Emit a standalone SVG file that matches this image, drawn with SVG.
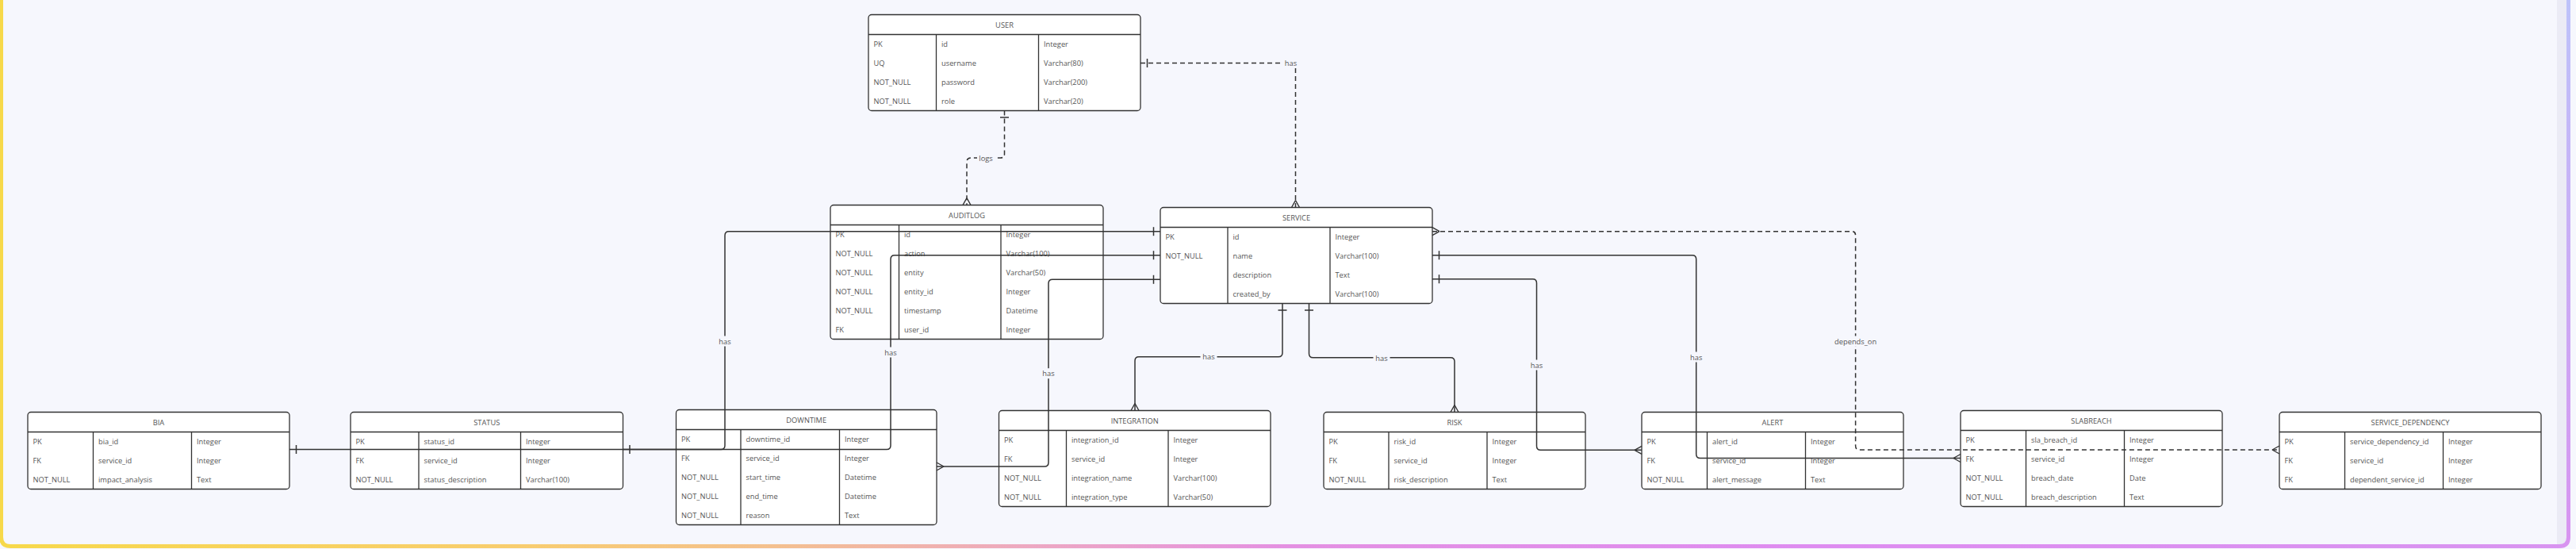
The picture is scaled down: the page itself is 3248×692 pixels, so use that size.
<svg xmlns="http://www.w3.org/2000/svg" width="3248" height="692" viewBox="0 0 3248 692">
<style>
.tb rect{fill:#fff;stroke:#333;stroke-width:1.3}
.ln{fill:none;stroke:#333;stroke-width:1.3}
.t{font-family:"Open Sans","Liberation Sans",sans-serif;font-size:9.3px;fill:#555;dominant-baseline:central}
.hd{text-anchor:middle}
.edge{fill:none;stroke:#333;stroke-width:1.5}
.dash{stroke-dasharray:6 4}
.lbg{fill:#f6f7fd}
.lb{text-anchor:middle}
</style>
<defs>
<linearGradient id="gb" gradientUnits="userSpaceOnUse" x1="0" y1="0" x2="3248" y2="0">
<stop offset="0" stop-color="#f7d94a"/>
<stop offset="0.2" stop-color="#f8cd6e"/>
<stop offset="0.3" stop-color="#f4c08e"/>
<stop offset="0.4" stop-color="#eda8c2"/>
<stop offset="0.5" stop-color="#e490e2"/>
<stop offset="0.7" stop-color="#de8cf0"/>
<stop offset="1" stop-color="#d894f0"/>
</linearGradient>
<linearGradient id="gr" gradientUnits="userSpaceOnUse" x1="0" y1="0" x2="0" y2="692">
<stop offset="0" stop-color="#bec3fa"/>
<stop offset="1" stop-color="#d894f0"/>
</linearGradient>
<marker id="one" markerUnits="userSpaceOnUse" markerWidth="20" markerHeight="20" viewBox="-15 -10 20 20" refX="0" refY="0" orient="auto-start-reverse" overflow="visible">
<path d="M-8.5,-5.5V5.5" stroke="#333" stroke-width="1.5" fill="none"/>
</marker>
<marker id="many" markerUnits="userSpaceOnUse" markerWidth="20" markerHeight="20" viewBox="-15 -10 20 20" refX="0" refY="0" orient="auto-start-reverse" overflow="visible">
<path d="M-9,0L0,-5M-9,0L0,5" stroke="#333" stroke-width="1.4" fill="none"/>
</marker>
</defs>

<rect x="0" y="0" width="3248" height="692" fill="#f6f7fd"/>
<rect x="3224" y="0" width="13" height="686" fill="#ebebf5"/>
<path d="M1.5,-10V677Q1.5,688.5 13,688.5H3227Q3238.5,688.5 3238.5,677V-10" fill="none" stroke="url(#gb)" stroke-width="5"/>
<path d="M3238.5,-10V677" fill="none" stroke="url(#gr)" stroke-width="5"/>

<g id="user" class="tb">
<rect x="1095" y="18.5" width="343" height="121" rx="4"/>
<path class="ln" d="M1095 43.5H1438M1180.5 43.5V139.5M1309.5 43.5V139.5"/>
<text class="t hd" x="1266.5" y="31">USER</text>
<text class="t" x="1101.5" y="55.5">PK</text><text class="t" x="1187" y="55.5">id</text><text class="t" x="1316" y="55.5">Integer</text>
<text class="t" x="1101.5" y="79.5">UQ</text><text class="t" x="1187" y="79.5">username</text><text class="t" x="1316" y="79.5">Varchar(80)</text>
<text class="t" x="1101.5" y="103.5">NOT_NULL</text><text class="t" x="1187" y="103.5">password</text><text class="t" x="1316" y="103.5">Varchar(200)</text>
<text class="t" x="1101.5" y="127.5">NOT_NULL</text><text class="t" x="1187" y="127.5">role</text><text class="t" x="1316" y="127.5">Varchar(20)</text>
</g>

<g id="auditlog" class="tb">
<rect x="1047" y="258.5" width="344" height="169" rx="4"/>
<path class="ln" d="M1047 283.5H1391M1133.5 283.5V427.5M1262 283.5V427.5"/>
<text class="t hd" x="1219" y="271">AUDITLOG</text>
<text class="t" x="1053.5" y="295.5">PK</text><text class="t" x="1140" y="295.5">id</text><text class="t" x="1268.5" y="295.5">Integer</text>
<text class="t" x="1053.5" y="319.5">NOT_NULL</text><text class="t" x="1140" y="319.5">action</text><text class="t" x="1268.5" y="319.5">Varchar(100)</text>
<text class="t" x="1053.5" y="343.5">NOT_NULL</text><text class="t" x="1140" y="343.5">entity</text><text class="t" x="1268.5" y="343.5">Varchar(50)</text>
<text class="t" x="1053.5" y="367.5">NOT_NULL</text><text class="t" x="1140" y="367.5">entity_id</text><text class="t" x="1268.5" y="367.5">Integer</text>
<text class="t" x="1053.5" y="391.5">NOT_NULL</text><text class="t" x="1140" y="391.5">timestamp</text><text class="t" x="1268.5" y="391.5">Datetime</text>
<text class="t" x="1053.5" y="415.5">FK</text><text class="t" x="1140" y="415.5">user_id</text><text class="t" x="1268.5" y="415.5">Integer</text>
</g>

<g id="service" class="tb">
<rect x="1463" y="261.5" width="343" height="121" rx="4"/>
<path class="ln" d="M1463 286.5H1806M1548 286.5V382.5M1677 286.5V382.5"/>
<text class="t hd" x="1634.5" y="274">SERVICE</text>
<text class="t" x="1469.5" y="298.5">PK</text><text class="t" x="1554.5" y="298.5">id</text><text class="t" x="1683.5" y="298.5">Integer</text>
<text class="t" x="1469.5" y="322.5">NOT_NULL</text><text class="t" x="1554.5" y="322.5">name</text><text class="t" x="1683.5" y="322.5">Varchar(100)</text>
<text class="t" x="1554.5" y="346.5">description</text><text class="t" x="1683.5" y="346.5">Text</text>
<text class="t" x="1554.5" y="370.5">created_by</text><text class="t" x="1683.5" y="370.5">Varchar(100)</text>
</g>

<g id="bia" class="tb">
<rect x="35" y="519.5" width="330" height="97" rx="4"/>
<path class="ln" d="M35 544.5H365M117.5 544.5V616.5M241.5 544.5V616.5"/>
<text class="t hd" x="200" y="532">BIA</text>
<text class="t" x="41.5" y="556.5">PK</text><text class="t" x="124" y="556.5">bia_id</text><text class="t" x="248" y="556.5">Integer</text>
<text class="t" x="41.5" y="580.5">FK</text><text class="t" x="124" y="580.5">service_id</text><text class="t" x="248" y="580.5">Integer</text>
<text class="t" x="41.5" y="604.5">NOT_NULL</text><text class="t" x="124" y="604.5">impact_analysis</text><text class="t" x="248" y="604.5">Text</text>
</g>

<g id="status" class="tb">
<rect x="442" y="519.5" width="343.5" height="97" rx="4"/>
<path class="ln" d="M442 544.5H785.5M528 544.5V616.5M656.5 544.5V616.5"/>
<text class="t hd" x="613.75" y="532">STATUS</text>
<text class="t" x="448.5" y="556.5">PK</text><text class="t" x="534.5" y="556.5">status_id</text><text class="t" x="663" y="556.5">Integer</text>
<text class="t" x="448.5" y="580.5">FK</text><text class="t" x="534.5" y="580.5">service_id</text><text class="t" x="663" y="580.5">Integer</text>
<text class="t" x="448.5" y="604.5">NOT_NULL</text><text class="t" x="534.5" y="604.5">status_description</text><text class="t" x="663" y="604.5">Varchar(100)</text>
</g>

<g id="downtime" class="tb">
<rect x="852.5" y="516.5" width="328.5" height="145" rx="4"/>
<path class="ln" d="M852.5 541.5H1181M934 541.5V661.5M1058.5 541.5V661.5"/>
<text class="t hd" x="1016.75" y="529">DOWNTIME</text>
<text class="t" x="859" y="553.5">PK</text><text class="t" x="940.5" y="553.5">downtime_id</text><text class="t" x="1065" y="553.5">Integer</text>
<text class="t" x="859" y="577.5">FK</text><text class="t" x="940.5" y="577.5">service_id</text><text class="t" x="1065" y="577.5">Integer</text>
<text class="t" x="859" y="601.5">NOT_NULL</text><text class="t" x="940.5" y="601.5">start_time</text><text class="t" x="1065" y="601.5">Datetime</text>
<text class="t" x="859" y="625.5">NOT_NULL</text><text class="t" x="940.5" y="625.5">end_time</text><text class="t" x="1065" y="625.5">Datetime</text>
<text class="t" x="859" y="649.5">NOT_NULL</text><text class="t" x="940.5" y="649.5">reason</text><text class="t" x="1065" y="649.5">Text</text>
</g>

<g id="integration" class="tb">
<rect x="1259.5" y="517.5" width="342.5" height="121" rx="4"/>
<path class="ln" d="M1259.5 542.5H1602M1344.5 542.5V638.5M1473 542.5V638.5"/>
<text class="t hd" x="1430.75" y="530">INTEGRATION</text>
<text class="t" x="1266" y="554.5">PK</text><text class="t" x="1351" y="554.5">integration_id</text><text class="t" x="1479.5" y="554.5">Integer</text>
<text class="t" x="1266" y="578.5">FK</text><text class="t" x="1351" y="578.5">service_id</text><text class="t" x="1479.5" y="578.5">Integer</text>
<text class="t" x="1266" y="602.5">NOT_NULL</text><text class="t" x="1351" y="602.5">integration_name</text><text class="t" x="1479.5" y="602.5">Varchar(100)</text>
<text class="t" x="1266" y="626.5">NOT_NULL</text><text class="t" x="1351" y="626.5">integration_type</text><text class="t" x="1479.5" y="626.5">Varchar(50)</text>
</g>

<g id="risk" class="tb">
<rect x="1669" y="519.5" width="330" height="97" rx="4"/>
<path class="ln" d="M1669 544.5H1999M1751 544.5V616.5M1875 544.5V616.5"/>
<text class="t hd" x="1834" y="532">RISK</text>
<text class="t" x="1675.5" y="556.5">PK</text><text class="t" x="1757.5" y="556.5">risk_id</text><text class="t" x="1881.5" y="556.5">Integer</text>
<text class="t" x="1675.5" y="580.5">FK</text><text class="t" x="1757.5" y="580.5">service_id</text><text class="t" x="1881.5" y="580.5">Integer</text>
<text class="t" x="1675.5" y="604.5">NOT_NULL</text><text class="t" x="1757.5" y="604.5">risk_description</text><text class="t" x="1881.5" y="604.5">Text</text>
</g>

<g id="alert" class="tb">
<rect x="2070" y="519.5" width="330" height="97" rx="4"/>
<path class="ln" d="M2070 544.5H2400M2152.5 544.5V616.5M2276.5 544.5V616.5"/>
<text class="t hd" x="2235" y="532">ALERT</text>
<text class="t" x="2076.5" y="556.5">PK</text><text class="t" x="2159" y="556.5">alert_id</text><text class="t" x="2283" y="556.5">Integer</text>
<text class="t" x="2076.5" y="580.5">FK</text><text class="t" x="2159" y="580.5">service_id</text><text class="t" x="2283" y="580.5">Integer</text>
<text class="t" x="2076.5" y="604.5">NOT_NULL</text><text class="t" x="2159" y="604.5">alert_message</text><text class="t" x="2283" y="604.5">Text</text>
</g>

<g id="slabreach" class="tb">
<rect x="2472" y="517.5" width="330" height="121" rx="4"/>
<path class="ln" d="M2472 542.5H2802M2554.5 542.5V638.5M2678.5 542.5V638.5"/>
<text class="t hd" x="2637" y="530">SLABREACH</text>
<text class="t" x="2478.5" y="554.5">PK</text><text class="t" x="2561" y="554.5">sla_breach_id</text><text class="t" x="2685" y="554.5">Integer</text>
<text class="t" x="2478.5" y="578.5">FK</text><text class="t" x="2561" y="578.5">service_id</text><text class="t" x="2685" y="578.5">Integer</text>
<text class="t" x="2478.5" y="602.5">NOT_NULL</text><text class="t" x="2561" y="602.5">breach_date</text><text class="t" x="2685" y="602.5">Date</text>
<text class="t" x="2478.5" y="626.5">NOT_NULL</text><text class="t" x="2561" y="626.5">breach_description</text><text class="t" x="2685" y="626.5">Text</text>
</g>

<g id="service_dependency" class="tb">
<rect x="2874" y="519.5" width="330" height="97" rx="4"/>
<path class="ln" d="M2874 544.5H3204M2956.5 544.5V616.5M3080.5 544.5V616.5"/>
<text class="t hd" x="3039" y="532">SERVICE_DEPENDENCY</text>
<text class="t" x="2880.5" y="556.5">PK</text><text class="t" x="2963" y="556.5">service_dependency_id</text><text class="t" x="3087" y="556.5">Integer</text>
<text class="t" x="2880.5" y="580.5">FK</text><text class="t" x="2963" y="580.5">service_id</text><text class="t" x="3087" y="580.5">Integer</text>
<text class="t" x="2880.5" y="604.5">FK</text><text class="t" x="2963" y="604.5">dependent_service_id</text><text class="t" x="3087" y="604.5">Integer</text>
</g>

<g id="connectors">
<path class="edge dash" d="M1438,79.5H1628.5Q1633.5,79.5 1633.5,84.5V261.5" marker-start="url(#one)" marker-end="url(#many)"/>
<path class="edge dash" d="M1266.5,139.5V194Q1266.5,199 1261.5,199H1224Q1219,199 1219,204V258.5" marker-start="url(#one)" marker-end="url(#many)"/>
<path class="edge" d="M1463,291.7H919Q914,291.7 914,296.7V561.5Q914,566.5 909,566.5H365" marker-start="url(#one)" marker-end="url(#one)"/>
<path class="edge" d="M1463,321.7H1128Q1123,321.7 1123,326.7V561.5Q1123,566.5 1118,566.5H785.5" marker-start="url(#one)" marker-end="url(#one)"/>
<path class="edge" d="M1463,352.3H1327Q1322,352.3 1322,357.3V583Q1322,588 1317,588H1181" marker-start="url(#one)" marker-end="url(#many)"/>
<path class="edge" d="M1617,382.5V444.7Q1617,449.7 1612,449.7H1436Q1431,449.7 1431,454.7V517.5" marker-start="url(#one)" marker-end="url(#many)"/>
<path class="edge" d="M1650.5,382.5V445.7Q1650.5,450.7 1655.5,450.7H1829Q1834,450.7 1834,455.7V519.5" marker-start="url(#one)" marker-end="url(#many)"/>
<path class="edge" d="M1806,351.7H1932.5Q1937.5,351.7 1937.5,356.7V562.3Q1937.5,567.3 1942.5,567.3H2070" marker-start="url(#one)" marker-end="url(#many)"/>
<path class="edge" d="M1806,321.7H2133.7Q2138.7,321.7 2138.7,326.7V572.5Q2138.7,577.5 2143.7,577.5H2472" marker-start="url(#one)" marker-end="url(#many)"/>
<path class="edge dash" d="M1806,291.7H2334.6Q2339.6,291.7 2339.6,296.7V562Q2339.6,567 2344.6,567H2874" marker-start="url(#many)" marker-end="url(#many)"/>

<rect class="lbg" x="1617" y="73" width="21" height="13"/><text class="t lb" x="1627.5" y="79.5">has</text>
<rect class="lbg" x="1232" y="192.5" width="22" height="13"/><text class="t lb" x="1243" y="199">logs</text>
<rect class="lbg" x="903.5" y="423.5" width="21" height="13"/><text class="t lb" x="914" y="430">has</text>
<rect class="lbg" x="1112.5" y="437.5" width="21" height="13"/><text class="t lb" x="1123" y="444">has</text>
<rect class="lbg" x="1311.5" y="464.2" width="21" height="13"/><text class="t lb" x="1322" y="470.7">has</text>
<rect class="lbg" x="1513.5" y="443.2" width="21" height="13"/><text class="t lb" x="1524" y="449.7">has</text>
<rect class="lbg" x="1731.5" y="444.5" width="21" height="13"/><text class="t lb" x="1742" y="451">has</text>
<rect class="lbg" x="1927" y="453.5" width="21" height="13"/><text class="t lb" x="1937.5" y="460">has</text>
<rect class="lbg" x="2128.2" y="443.5" width="21" height="13"/><text class="t lb" x="2138.7" y="450">has</text>
<rect class="lbg" x="2312" y="423.5" width="55" height="13"/><text class="t lb" x="2339.6" y="430">depends_on</text>
</g>
</svg>
